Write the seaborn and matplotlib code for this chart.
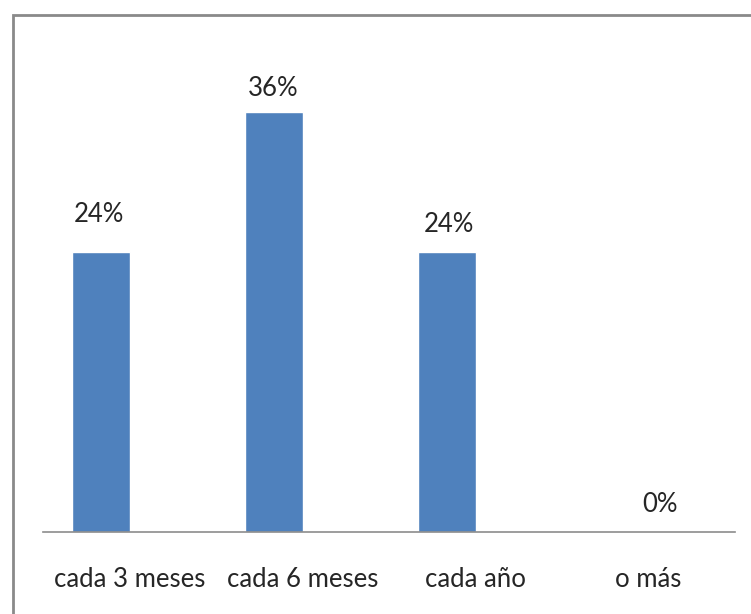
import matplotlib
matplotlib.use("Agg")
import matplotlib.pyplot as plt
from matplotlib.patches import Rectangle
import seaborn as sns
import pandas as pd

categories = ["cada 3 meses", "cada 6 meses", "cada año", "o más"]
percentages = [24, 36, 24, 0]
# second (empty) series slot that shares each category with the first
empty_series = [0, 0, 0, 0]

df = pd.DataFrame({
    "categoria": categories * 2,
    "porcentaje": percentages + empty_series,
    "serie": ["Serie 1"] * len(categories) + ["Serie 2"] * len(categories),
})

sns.set_style("white")
plt.rcParams["font.family"] = ["Lato", "DejaVu Sans"]

W, H = 751, 614
fig = plt.figure(figsize=(W / 100, H / 100), dpi=100)

# Plot area in pixel terms: baseline at y=532, spanning x=43..735
left, right, bottom, top = 43, 735, 532, 42
ax = fig.add_axes([left / W, 1 - bottom / H, (right - left) / W, (bottom - top) / H])

sns.barplot(data=df, x="categoria", y="porcentaje", hue="serie",
            palette=["#4F81BD", "none"], saturation=1, width=0.67,
            dodge=True, legend=False, ax=ax)

ax.set_xlim(-0.5, len(categories) - 0.5)
ax.set_ylim(0, 36 * (bottom - top) / (bottom - 112))

# Data labels (hand-placed offsets from each bar top, in pixels)
label_dx = [-2, 0, 2, 40]
label_dy = [30, 16, 20, 20]
px = 72 / fig.dpi
for bar, v, dx, dy in zip(ax.containers[0], percentages, label_dx, label_dy):
    xc = bar.get_x() + bar.get_width() / 2
    ax.annotate(f"{v}%", (xc, v), xytext=(dx * px, dy * px),
                textcoords="offset points", ha="center", va="baseline",
                fontsize=18.5, color="#262626")

ax.set_xlabel("")
ax.set_ylabel("")
ax.set_yticks([])
ax.tick_params(axis="x", length=0, pad=25, labelsize=18.5, labelcolor="#262626")
for s in ["top", "right", "left"]:
    ax.spines[s].set_visible(False)
ax.spines["bottom"].set_color("#8c8c8c")
ax.spines["bottom"].set_linewidth(1.2)

# Outer chart frame, running off the right and bottom edges
fig.patches.append(Rectangle((12.5 / W, -0.1), 1.2, 1 - 14.5 / H + 0.1,
                             transform=fig.transFigure, fill=False,
                             edgecolor="#8a8a8a", linewidth=2.0))

fig.savefig("out.png", dpi=100)
